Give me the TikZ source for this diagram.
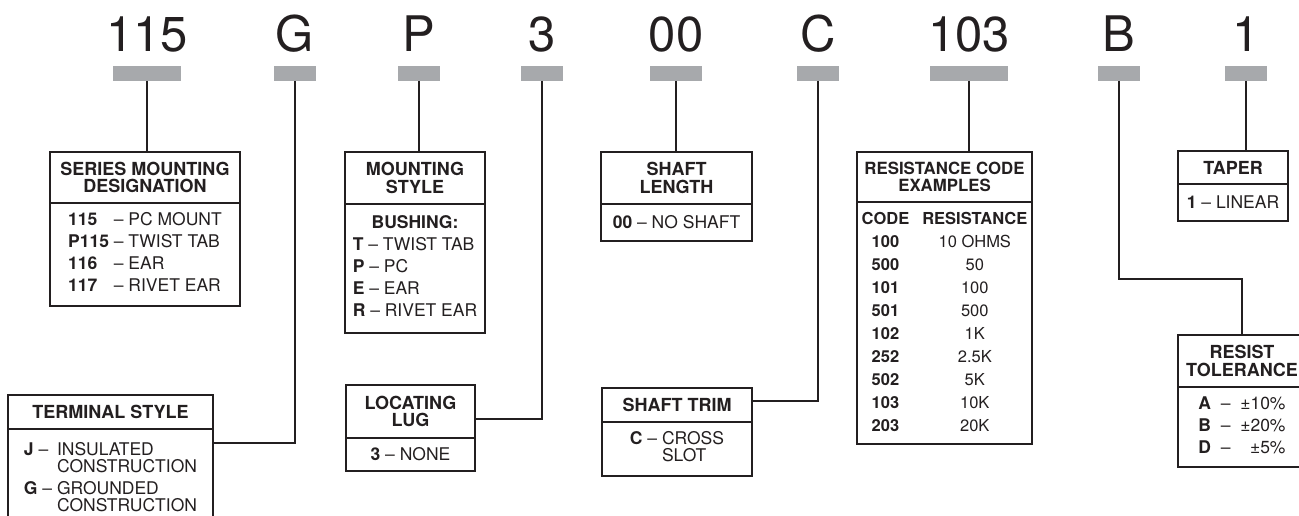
\documentclass[tikz,border=0pt]{standalone}
\usepackage{fontspec}
\setmainfont{TeX Gyre Heros}
\usepackage{array}
\definecolor{bargray}{HTML}{A7A9AC}
\definecolor{ink}{HTML}{231F20}
\begin{document}
\begin{tikzpicture}[x=1pt,y=-1pt,
  code/.style={font=\fontsize{49}{49}\selectfont, anchor=base, inner sep=0pt, text=ink},
  bar/.style={fill=bargray, draw=none, minimum height=15pt, inner sep=0pt, outer sep=0pt, anchor=north},
  hdr/.style={draw=ink, line width=2.2pt, anchor=north west, inner sep=0pt, outer sep=0pt, align=center, font=\bfseries\fontsize{18}{17.5}\selectfont, text=ink},
  bodybox/.style={draw=ink, line width=2.2pt, anchor=north west, inner sep=0pt, outer sep=0pt, font=\fontsize{17.5}{22}\selectfont, text=ink},
  conn/.style={draw=ink, line width=2pt},
]
\useasboundingbox (0,0) rectangle (1299,516);

% code characters
\node[code] (c115) at (147,52) {115};
\node[code] (cG)   at (295,52) {G};
\node[code] (cP)   at (419,52) {P};
\node[code] (c3)   at (542,52) {3};
\node[code] (c00)  at (676,52) {00};
\node[code] (cC)   at (818,52) {C};
\node[code] (c103) at (969,52) {103};
\node[code] (cB)   at (1119,52) {B};
\node[code] (c1)   at (1246,52) {1};

% gray bars
\node[bar, minimum width=68pt] (b115) at (147,66) {};
\node[bar, minimum width=42pt] (bG)   at (295,66) {};
\node[bar, minimum width=42pt] (bP)   at (419,66) {};
\node[bar, minimum width=42pt] (b3)   at (542,66) {};
\node[bar, minimum width=52pt] (b00)  at (676,66) {};
\node[bar, minimum width=42pt] (bC)   at (818,66) {};
\node[bar, minimum width=78pt] (b103) at (969,66) {};
\node[bar, minimum width=42pt] (bB)   at (1119,66) {};
\node[bar, minimum width=42pt] (b1)   at (1246,66) {};

% SERIES MOUNTING DESIGNATION
\node[hdr, minimum width=190pt, minimum height=51pt] (serH) at (50,152) {SERIES MOUNTING\\DESIGNATION};
\node[bodybox, minimum width=190pt, minimum height=103pt] (serB) at (serH.south west)
  {\begin{tabular}{@{}l@{\ }l@{}}\textbf{115} & – PC MOUNT\\ \textbf{P115} & – TWIST TAB\\ \textbf{116} & – EAR\\ \textbf{117} & – RIVET EAR\end{tabular}};

% MOUNTING STYLE
\node[hdr, minimum width=140pt, minimum height=52pt] (monH) at (345,152) {MOUNTING\\STYLE};
\node[bodybox, minimum width=140pt, minimum height=129pt] (monB) at (monH.south west)
  {\begin{tabular}{@{}l@{}}\multicolumn{1}{@{}c@{}}{\textbf{BUSHING:}}\\ \textbf{T} – TWIST TAB\\ \textbf{P} – PC\\ \textbf{E} – EAR\\ \textbf{R} – RIVET EAR\end{tabular}};

% SHAFT LENGTH
\node[hdr, minimum width=151pt, minimum height=52pt] (lenH) at (601,152) {SHAFT\\LENGTH};
\node[bodybox, minimum width=151pt, minimum height=37pt] (lenB) at (lenH.south west) {\textbf{00} – NO SHAFT};

% RESISTANCE CODE EXAMPLES
\node[hdr, minimum width=175pt, minimum height=50pt, font=\bfseries\fontsize{16.8}{17.5}\selectfont] (resH) at (857,152) {RESISTANCE CODE\\EXAMPLES};
\node[bodybox, minimum width=175pt, minimum height=242pt, font=\fontsize{16.5}{23}\selectfont] (resB) at (resH.south west)
  {\begin{tabular}{@{}c@{\hspace{13pt}}c@{}}\textbf{CODE} & \textbf{RESISTANCE}\\
   \textbf{100} & 10 OHMS\\ \textbf{500} & 50\\ \textbf{101} & 100\\ \textbf{501} & 500\\ \textbf{102} & 1K\\
   \textbf{252} & 2.5K\\ \textbf{502} & 5K\\ \textbf{103} & 10K\\ \textbf{203} & 20K\end{tabular}};

% TAPER
\node[hdr, minimum width=110pt, minimum height=33pt] (tapH) at (1178,151) {TAPER};
\node[bodybox, minimum width=110pt, minimum height=37pt] (tapB) at (tapH.south west) {\textbf{1} – LINEAR};

% TERMINAL STYLE
\node[hdr, minimum width=205pt, minimum height=34pt] (terH) at (8,395) {TERMINAL STYLE};
\node[bodybox, minimum width=205pt, minimum height=100pt] (terB) at (terH.south west)
  {\begin{tabular}{@{}l@{\ }l@{}}\textbf{J} – & INSULATED\\[-5pt] & CONSTRUCTION\\ \textbf{G} – & GROUNDED\\[-5pt] & CONSTRUCTION\end{tabular}};

% LOCATING LUG
\node[hdr, minimum width=129pt, minimum height=53pt] (lugH) at (346,385) {LOCATING\\LUG};
\node[bodybox, minimum width=129pt, minimum height=33pt] (lugB) at (lugH.south west) {\textbf{3} – NONE};

% SHAFT TRIM
\node[hdr, minimum width=150pt, minimum height=34pt] (trmH) at (602,388) {SHAFT TRIM};
\node[bodybox, minimum width=150pt, minimum height=54pt] (trmB) at (trmH.south west)
  {\begin{tabular}{@{}l@{\ }l@{}}\textbf{C} – & CROSS\\[-5pt] & SLOT\end{tabular}};

% RESIST TOLERANCE
\node[hdr, minimum width=128pt, minimum height=52pt] (tolH) at (1178,335) {RESIST\\TOLERANCE};
\node[bodybox, minimum width=128pt, minimum height=80pt] (tolB) at (tolH.south west)
  {\begin{tabular}{@{}l@{\ \ }l@{\ \ }r@{}}\textbf{A} & – & ±10\%\\ \textbf{B} & – & ±20\%\\ \textbf{D} & – & ±5\%\end{tabular}};

% connectors
\draw[conn] (b115.south) -- (b115.south |- serH.north);
\draw[conn] (bG.south) |- ([yshift=-14pt]terB.north east);
\draw[conn] (bP.south) -- (bP.south |- monH.north);
\draw[conn] (b3.south) |- ([yshift=-34pt]lugH.north east);
\draw[conn] (b00.south) -- (b00.south |- lenH.north);
\draw[conn] (bC.south) |- ([yshift=-13pt]trmH.north east);
\draw[conn] (b103.south) -- (b103.south |- resH.north);
\draw[conn] (bB.south) -- ++(0,198) -| (tolH.north);
\draw[conn] (b1.south) -- (b1.south |- tapH.north);
\end{tikzpicture}
\end{document}
